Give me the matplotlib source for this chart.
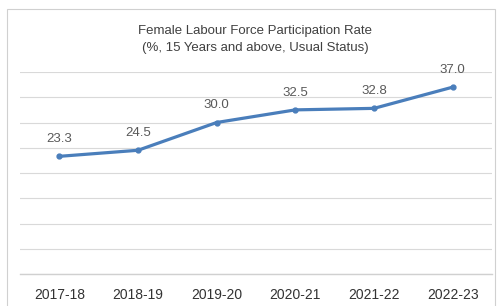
import matplotlib.pyplot as plt
from matplotlib.patches import Rectangle

years = ["2017-18", "2018-19", "2019-20", "2020-21", "2021-22", "2022-23"]
rate = [23.3, 24.5, 30.0, 32.5, 32.8, 37.0]
labels = ["23.3", "24.5", "30.0", "32.5", "32.8", "37.0"]

plt.rcParams['font.family'] = ['Liberation Sans', 'DejaVu Sans']

fig = plt.figure(figsize=(4.99, 3.06), dpi=100)
ax = fig.add_axes([20 / 499, 1 - 274 / 306, 472 / 499, (274 - 72) / 306])

# chart border
fig.patches.append(Rectangle((7 / 499, -0.1), (495 - 7) / 499, 1 - 9 / 306 + 0.1,
                             transform=fig.transFigure,
                             fill=False, edgecolor='#d0d0d0', linewidth=0.8))

x = list(range(len(years)))
ax.plot(x, rate, color='#4a7ebb', linewidth=2.3, marker='o', markersize=3.5, zorder=3)

for xi, yi, lab in zip(x, rate, labels):
    ax.annotate(lab, (xi, yi), xytext=(0, 8), textcoords='offset points',
                ha='center', va='bottom', fontsize=9.5, color='#595959')

ax.set_xlim(-0.5, len(years) - 0.5)
ax.set_ylim(0, 40)
ax.set_yticks(range(0, 41, 5))
ax.yaxis.grid(True, color='#d9d9d9', linewidth=0.8)
ax.set_axisbelow(True)
ax.tick_params(axis='y', left=False, labelleft=False)
ax.tick_params(axis='x', length=0, pad=10, labelsize=10, labelcolor='#333333')
ax.set_xticks(x)
ax.set_xticklabels(years)
for s in ax.spines.values():
    s.set_visible(False)
ax.spines['bottom'].set_visible(True)
ax.spines['bottom'].set_color('#d0d0d0')
ax.spines['bottom'].set_linewidth(1.0)

fig.text(255 / 499, 1 - 31 / 306, "Female Labour Force Participation Rate",
         ha='center', va='center', fontsize=9.5, color='#404040')
fig.text(255 / 499, 1 - 48 / 306, "(%, 15 Years and above, Usual Status)",
         ha='center', va='center', fontsize=9.5, color='#404040')

fig.savefig('out.png', dpi=100)
